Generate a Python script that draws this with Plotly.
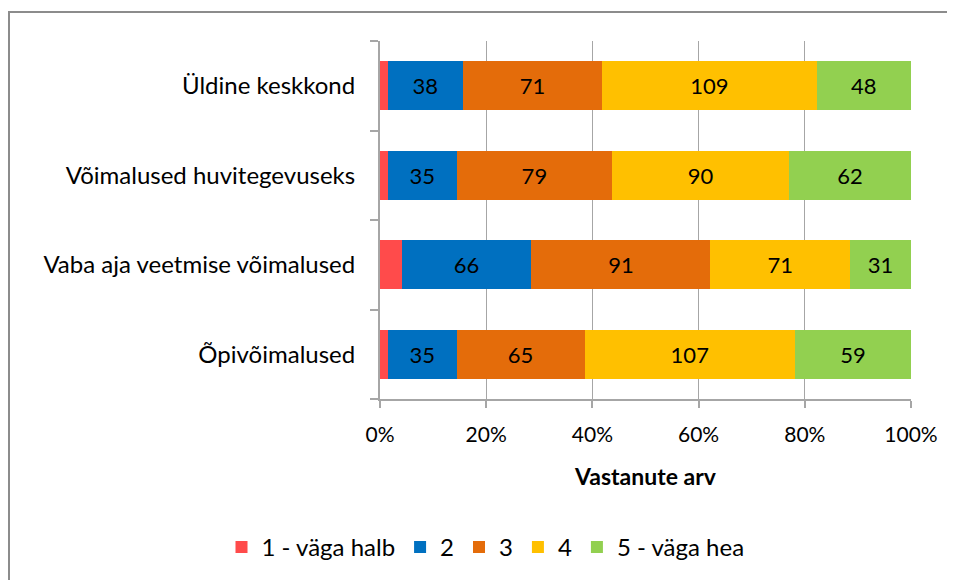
import plotly.graph_objects as go

categories = ["Õpivõimalused", "Vaba aja veetmise võimalused",
              "Võimalused huvitegevuseks", "Üldine keskkond"]
series_names = ["1 - väga halb", "2", "3", "4", "5 - väga hea"]
s1 = [4, 11, 4, 4]
s2 = [35, 66, 35, 38]
s3 = [65, 91, 79, 71]
s4 = [107, 71, 90, 109]
s5 = [59, 31, 62, 48]
colors = ["#FF4B4B", "#0070C0", "#E46C0A", "#FFC000", "#92D050"]
show_labels = [False, True, True, True, True]

fig = go.Figure()
for name, vals, col, lab in zip(series_names, [s1, s2, s3, s4, s5], colors, show_labels):
    fig.add_trace(go.Bar(
        y=categories, x=vals, name=name, orientation="h",
        marker=dict(color=col, line=dict(width=0)),
        text=[str(v) for v in vals] if lab else None,
        textposition="inside" if lab else "none",
        insidetextanchor="middle",
        textfont=dict(color="black", size=22, family="Lato"),
        constraintext="none",
    ))

# page body has an 8px offset; plot area placed accordingly
L, R, T, B = 372, 52, 33, 189
fig.update_layout(
    barmode="stack", barnorm="percent", bargap=0.45,
    width=955, height=580,
    margin=dict(l=L, r=R, t=T, b=B, autoexpand=False),
    paper_bgcolor="white", plot_bgcolor="white",
    font=dict(family="Lato", size=24, color="black"),
    xaxis=dict(range=[0, 100], dtick=20, ticksuffix="%",
               showgrid=True, gridcolor="#A6A6A6", gridwidth=1,
               showline=True, linecolor="#A6A6A6", linewidth=2,
               ticks="outside", ticklen=7, tickcolor="#A6A6A6", tickwidth=2,
               zeroline=False, tickfont=dict(size=21), ticklabelstandoff=9,
               title=dict(text="<b>Vastanute arv</b>", font=dict(size=23), standoff=24)),
    yaxis=dict(showline=True, linecolor="#A6A6A6", linewidth=2,
               ticks="outside", ticklen=8, tickcolor="#A6A6A6", tickwidth=2,
               tickson="boundaries", showgrid=False,
               tickfont=dict(size=24), ticklabelstandoff=18),
    legend=dict(orientation="h", xref="container", x=0.5, xanchor="center",
                yref="container", y=0.07, yanchor="middle",
                font=dict(size=24), itemwidth=30, traceorder="normal"),
    shapes=[dict(type="rect", xref="paper", yref="paper",
                 x0=(1 - L) / 531, x1=1.3, y0=-0.8, y1=(391 - 4) / 358,
                 line=dict(color="#8C8C8C", width=2), layer="below")],
)

fig.write_html("out.html")
